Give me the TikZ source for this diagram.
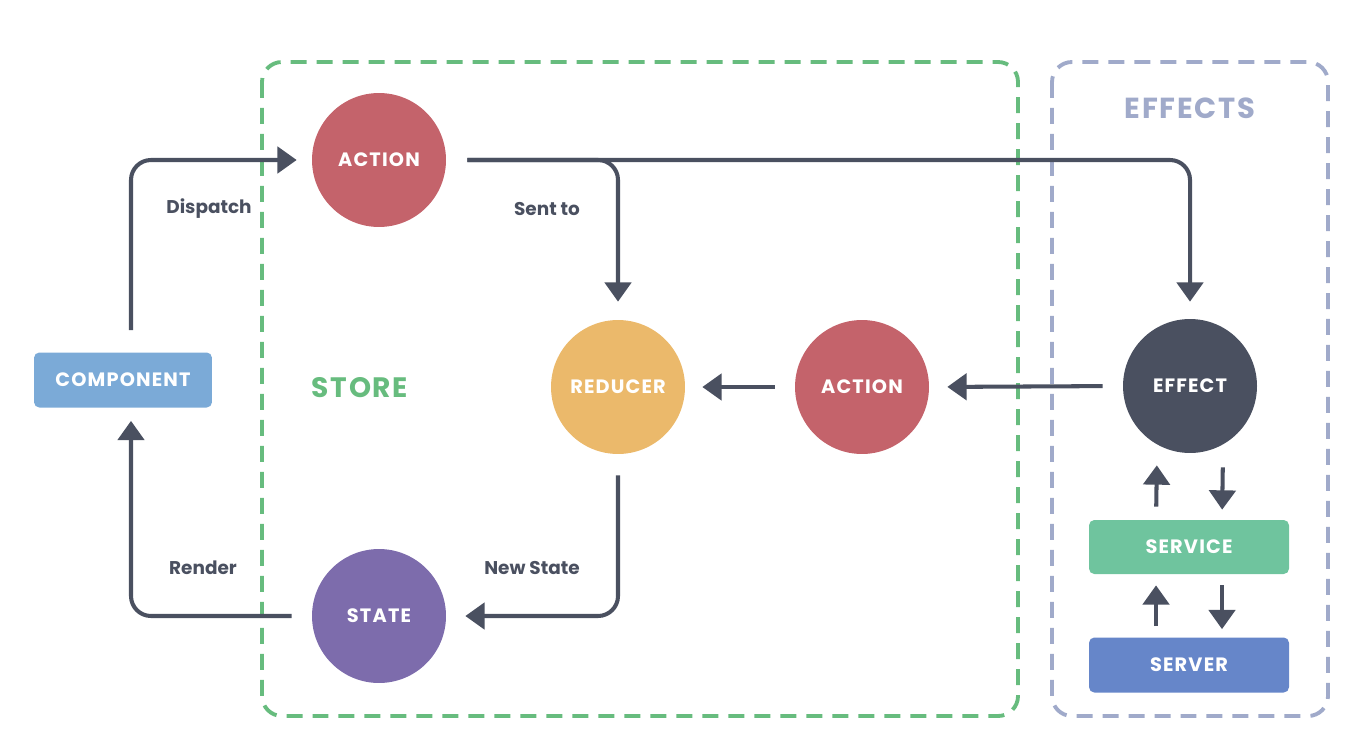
\documentclass[tikz,border=0pt]{standalone}
\usepackage{fontspec}
\setmainfont{Poppins}
\usepackage{xcolor}
\usetikzlibrary{arrows.meta,positioning}

\definecolor{ink}{HTML}{4A5060}
\definecolor{actred}{HTML}{C4636B}
\definecolor{redyellow}{HTML}{EBB96B}
\definecolor{statepurple}{HTML}{7D6CAC}
\definecolor{compblue}{HTML}{7BAAD7}
\definecolor{svcgreen}{HTML}{6FC49E}
\definecolor{srvblue}{HTML}{6686C9}
\definecolor{storegreen}{HTML}{67BC7E}
\definecolor{effgray}{HTML}{A0AACA}

\newfontfamily\capsfont[LetterSpace=6]{Poppins}

\begin{document}
\begin{tikzpicture}[x=0.02cm,y=-0.02cm,
    blob/.style={circle,minimum size=2.68cm,inner sep=0pt,text=white,
        font=\capsfont\fontsize{11}{13}\selectfont\bfseries},
    tag/.style={rounded corners=3pt,minimum height=1.1cm,inner sep=0pt,text=white,
        font=\capsfont\fontsize{11}{13}\selectfont\bfseries},
    flow/.style={draw=ink,line width=2.3pt,rounded corners=0.4cm,
        -{Triangle[length=11pt,width=15pt]}},
    lbl/.style={text=ink,font=\fontsize{10.5}{13}\selectfont\bfseries},
    zone/.style={line width=2.2pt,rounded corners=0.4cm,dash pattern=on 0.32cm off 0.2cm}]
    \useasboundingbox (0,0) rectangle (1364,750);
    % boxes round the store and the effects
    \draw [zone,storegreen] (262,62) rectangle (1018,716);
    \draw [zone,effgray] (1052,62) rectangle (1328,716);
    \node [text=storegreen,font=\capsfont\fontsize{16}{20}\selectfont\bfseries] (store) at (360,388) {STORE};
    \node [text=effgray,font=\capsfont\fontsize{16.5}{20}\selectfont\bfseries] (effects) at (1190,108) {EFFECTS};
    % nodes
    \node [tag,fill=compblue,minimum width=3.56cm] (comp) at (123,380) {COMPONENT};
    \node [blob,fill=actred] (act1) at (379,160) {ACTION};
    \node [blob,fill=redyellow] (red) at (618,387) {REDUCER};
    \node [blob,fill=actred] (act2) at (862,387) {ACTION};
    \node [blob,fill=ink] (eff) at (1190,386) {EFFECT};
    \node [blob,fill=statepurple] (state) at (379,616) {STATE};
    \node [tag,fill=svcgreen,minimum width=4cm,minimum height=1.08cm] (svc) at (1189,547) {SERVICE};
    \node [tag,fill=srvblue,minimum width=4cm] (srv) at (1189,665) {SERVER};
    % connectors
    \draw [flow,shorten <=0.44cm,shorten >=0.3cm] ([xshift=0.16cm]comp.north) |- (act1.west);
    \draw [flow,shorten <=0.42cm,shorten >=0.34cm] (act1.east) -| (eff.north);
    \draw [flow,shorten <=0.42cm,shorten >=0.36cm] (act1.east) -| (red.north);
    \draw [flow,shorten <=0.4cm,shorten >=0.36cm] (eff.west) -- (act2.east);
    \draw [flow,shorten <=0.4cm,shorten >=0.34cm] (act2.west) -- (red.east);
    \draw [flow,shorten <=0.42cm,shorten >=0.38cm] (red.south) |- (state.east);
    \draw [flow,shorten <=0.4cm,shorten >=0.26cm] (state.west) -| ([xshift=0.16cm]comp.south);
    \draw [flow,shorten <=0.26cm,shorten >=0.24cm] ([xshift=-0.66cm]svc.north) -- ([xshift=-0.66cm]eff.south);
    \draw [flow,shorten <=0.28cm,shorten >=0.2cm] ([xshift=0.66cm]eff.south) -- ([xshift=0.66cm]svc.north);
    \draw [flow,shorten <=0.22cm,shorten >=0.22cm] ([xshift=-0.66cm]srv.north) -- ([xshift=-0.66cm]svc.south);
    \draw [flow,shorten <=0.22cm,shorten >=0.16cm] ([xshift=0.66cm]svc.south) -- ([xshift=0.66cm]srv.north);
    % labels
    \node [lbl] (dispatch) at (209,209) {Dispatch};
    \node [lbl] (sentto) at (547,209) {Sent to};
    \node [lbl] (newstate) at (532,568) {New State};
    \node [lbl] (render) at (203,568) {Render};
\end{tikzpicture}
\end{document}
